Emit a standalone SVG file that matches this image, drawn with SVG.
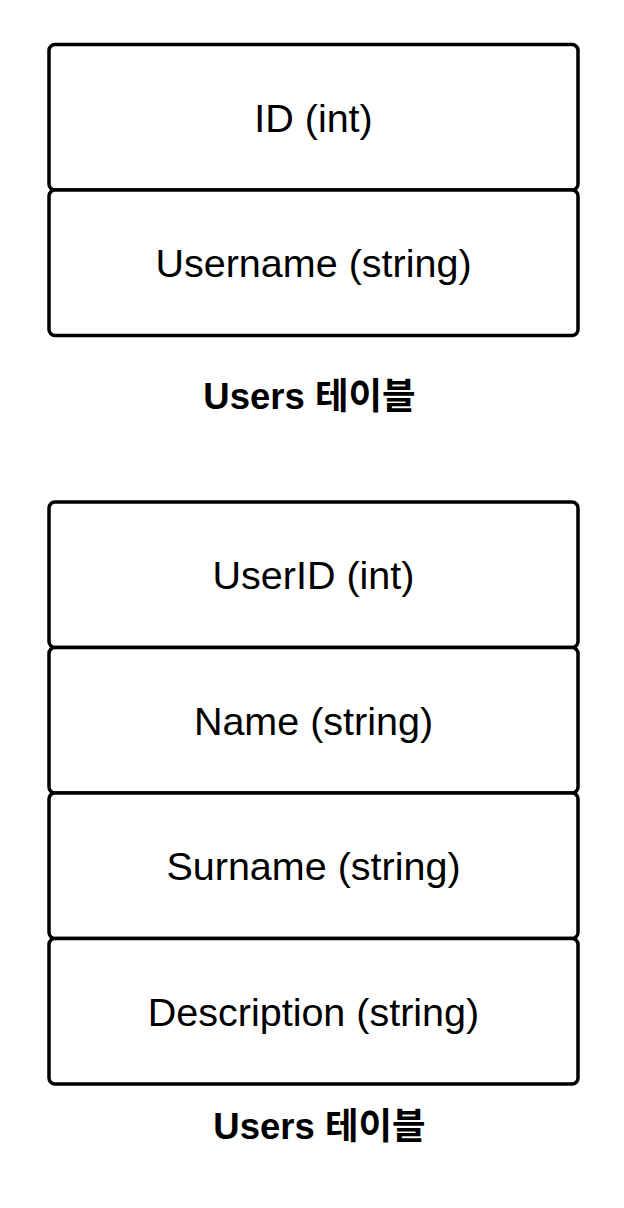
<svg xmlns="http://www.w3.org/2000/svg" width="624" height="1208" viewBox="0 0 624 1208">
<style>
.box{fill:#fff;stroke:#000;stroke-width:3.5}
.t{font-family:"Liberation Sans","Noto Sans CJK KR",sans-serif;font-size:39.5px;fill:#000;text-anchor:middle}
.lbl{font-family:"Liberation Sans","Noto Sans CJK KR",sans-serif;font-size:36.5px;font-weight:bold;fill:#000;text-anchor:middle}
</style>
<rect width="624" height="1208" fill="#fff"/>
<g id="users1">
<g id="users1-id"><rect class="box" x="49" y="44.5" width="529" height="145.5" rx="6"/><text class="t" x="313.5" y="131.5">ID (int)</text></g>
<g id="users1-username"><rect class="box" x="49" y="190" width="529" height="145.5" rx="6"/><text class="t" x="313.5" y="277">Username (string)</text></g>
<g id="users1-label"><text class="lbl" x="309.5" y="409">Users 테이블</text></g>
</g>
<g id="users2">
<g id="users2-userid"><rect class="box" x="49" y="502" width="529" height="145.5" rx="6"/><text class="t" x="313.5" y="589">UserID (int)</text></g>
<g id="users2-name"><rect class="box" x="49" y="647.5" width="529" height="145.5" rx="6"/><text class="t" x="313.5" y="734.5">Name (string)</text></g>
<g id="users2-surname"><rect class="box" x="49" y="793" width="529" height="145.5" rx="6"/><text class="t" x="313.5" y="880">Surname (string)</text></g>
<g id="users2-description"><rect class="box" x="49" y="938.5" width="529" height="145.5" rx="6"/><text class="t" x="313.5" y="1025.5">Description (string)</text></g>
<g id="users2-label"><text class="lbl" x="319.5" y="1139">Users 테이블</text></g>
</g>
<g id="connectors"></g>
</svg>
